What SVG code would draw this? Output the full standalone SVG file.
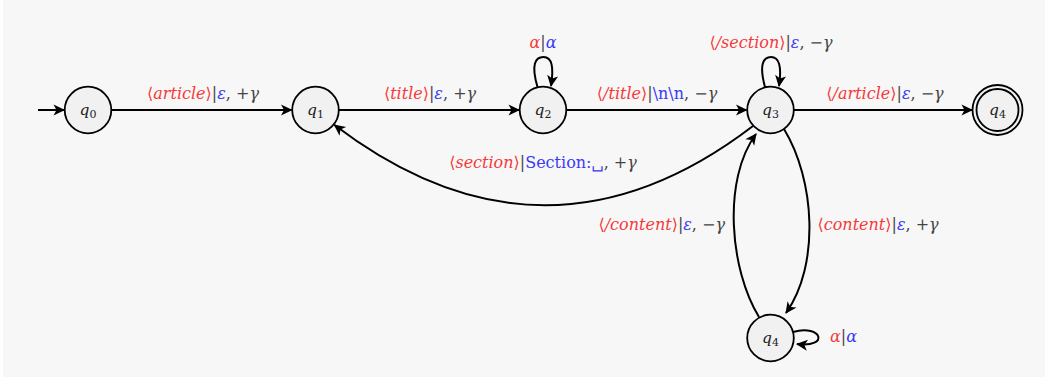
<svg xmlns="http://www.w3.org/2000/svg" width="1048" height="380" viewBox="0 0 1048 380">
<defs>
<marker id="arr" viewBox="-12 -6 14 12" refX="0" refY="0" markerWidth="14" markerHeight="12" markerUnits="userSpaceOnUse" orient="auto">
<path d="M1,0 L-10.5,-5.5 L-7.5,0 L-10.5,5.5 z" fill="#000"/>
</marker>
</defs>
<style>
.node circle{fill:#f1f1f1;stroke:#000;stroke-width:1.8}
.nl{font-family:"DejaVu Serif",serif;font-size:15.5px;fill:#222;text-anchor:middle}
.nl .q{font-style:italic}
.nl .s{font-size:11px}
.edge{fill:none;stroke:#000;stroke-width:2;marker-end:url(#arr)}
.lb{font-family:"DejaVu Serif",serif;font-size:16px;fill:#444}
.r{fill:#f53a3a}
.b{fill:#3a3af5}
.i{font-style:italic}
</style>
<rect x="3" y="0" width="1042" height="377" fill="#f7f7f7"/>
<g id="connectors">
<path class="edge" d="M38,110 L64,110"/>
<path class="edge" d="M111.5,110 L291.5,110"/>
<path class="edge" d="M566.5,110 L746.5,110"/>
<path class="edge" d="M339,110 L519,110"/>
<path class="edge" d="M794,110 L972,110"/>
<path class="edge" d="M537.5,87 C531,65 535,57 543.5,57 C552,57 554,67 551,86"/>
<path class="edge" d="M765,87 C759,65 763,57 771,57 C779,57 782,66 779,86"/>
<path class="edge" d="M753,126 Q545,285 334.5,125"/>
<path class="edge" d="M759,317 C730,270 722,180 756,134"/>
<path class="edge" d="M784,129 C815,180 820,265 786,313"/>
<path class="edge" d="M793,332 C822,324 830,348 797,344"/>
</g>
<g id="q0" class="node"><circle cx="88" cy="110" r="23.3"/><text class="nl" x="88" y="115"><tspan class="q">q</tspan><tspan class="s" dy="3">0</tspan></text></g>
<g id="q1" class="node"><circle cx="315.5" cy="110" r="23.3"/><text class="nl" x="315.5" y="115"><tspan class="q">q</tspan><tspan class="s" dy="3">1</tspan></text></g>
<g id="q2" class="node"><circle cx="543" cy="110" r="23.3"/><text class="nl" x="543" y="115"><tspan class="q">q</tspan><tspan class="s" dy="3">2</tspan></text></g>
<g id="q3" class="node"><circle cx="770.5" cy="110" r="23.3"/><text class="nl" x="770.5" y="115"><tspan class="q">q</tspan><tspan class="s" dy="3">3</tspan></text></g>
<g id="q4f" class="node"><circle cx="997.5" cy="110" r="25"/><circle cx="997.5" cy="110" r="21"/><text class="nl" x="997.5" y="115"><tspan class="q">q</tspan><tspan class="s" dy="3">4</tspan></text></g>
<g id="q4" class="node"><circle cx="770.5" cy="338" r="23.3"/><text class="nl" x="770.5" y="343"><tspan class="q">q</tspan><tspan class="s" dy="3">4</tspan></text></g>
<g id="labels">
<text class="lb" x="203" y="99" text-anchor="middle"><tspan class="r">⟨<tspan class="i">article</tspan>⟩</tspan>|<tspan class="b i">ε</tspan>, +<tspan class="i">γ</tspan></text>
<text class="lb" x="430" y="99" text-anchor="middle"><tspan class="r">⟨<tspan class="i">title</tspan>⟩</tspan>|<tspan class="b i">ε</tspan>, +<tspan class="i">γ</tspan></text>
<text class="lb" x="543" y="48" text-anchor="middle"><tspan class="r i">α</tspan>|<tspan class="b i">α</tspan></text>
<text class="lb" x="657" y="99" text-anchor="middle"><tspan class="r">⟨<tspan class="i">/title</tspan>⟩</tspan>|<tspan class="b">\n\n</tspan>, −<tspan class="i">γ</tspan></text>
<text class="lb" x="771" y="48" text-anchor="middle"><tspan class="r">⟨<tspan class="i">/section</tspan>⟩</tspan>|<tspan class="b i">ε</tspan>, −<tspan class="i">γ</tspan></text>
<text class="lb" x="885" y="99" text-anchor="middle"><tspan class="r">⟨<tspan class="i">/article</tspan>⟩</tspan>|<tspan class="b i">ε</tspan>, −<tspan class="i">γ</tspan></text>
<text class="lb" x="543" y="168" text-anchor="middle"><tspan class="r">⟨<tspan class="i">section</tspan>⟩</tspan>|<tspan class="b">Section:␣</tspan>, +<tspan class="i">γ</tspan></text>
<text class="lb" x="725" y="230" text-anchor="end"><tspan class="r">⟨<tspan class="i">/content</tspan>⟩</tspan>|<tspan class="b i">ε</tspan>, −<tspan class="i">γ</tspan></text>
<text class="lb" x="817.5" y="230"><tspan class="r">⟨<tspan class="i">content</tspan>⟩</tspan>|<tspan class="b i">ε</tspan>, +<tspan class="i">γ</tspan></text>
<text class="lb" x="830" y="342"><tspan class="r i">α</tspan>|<tspan class="b i">α</tspan></text>
</g>
</svg>
